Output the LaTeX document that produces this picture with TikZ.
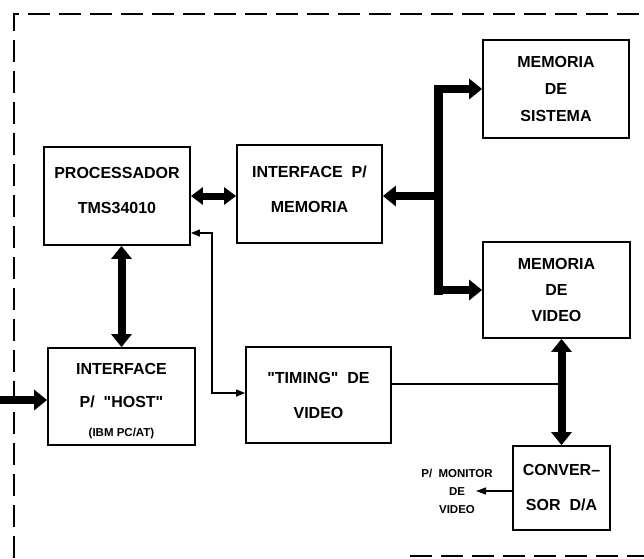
\documentclass[tikz,border=0pt]{standalone}
\usepackage{fontspec}
\setmainfont{Liberation Sans}
\usetikzlibrary{arrows.meta,calc}
\tikzset{
  box/.style={draw, line width=1.8pt, inner sep=0pt},
  txt/.style={align=center, inner sep=0pt, font=\bfseries\fontsize{16}{35}\selectfont},
  fat/.style={line width=8pt, -{Triangle[width=20pt,length=13pt]}},
  fatboth/.style={line width=8pt, {Triangle[width=20pt,length=13pt]}-{Triangle[width=20pt,length=13pt]}},
  midboth/.style={line width=7pt, {Triangle[width=17pt,length=12pt]}-{Triangle[width=17pt,length=12pt]}},
  busline/.style={line width=9pt, line cap=rect},
  thinline/.style={line width=1.2pt},
  thinarrow/.style={line width=1.2pt, -{Triangle[width=7pt,length=10pt]}},
  thinboth/.style={line width=1.2pt, {Triangle[width=7pt,length=9pt]}-{Triangle[width=7pt,length=9pt]}},
  frame/.style={line width=1.8pt, dash pattern=on 22pt off 9pt},
  small/.style={font=\bfseries\fontsize{11.5}{18}\selectfont, align=center, inner sep=0pt}
}
\begin{document}
\begin{tikzpicture}[x=1pt,y=-1pt]
\useasboundingbox (0,0) rectangle (644,558);
% frame
\draw[frame] (14,558) -- (14,14) -- (644,14);
\draw[frame] (410,556) -- (644,556);
% boxes
\node[box, minimum width=146pt, minimum height=98pt] (proc) at (117,196) {};
\node[box, minimum width=145pt, minimum height=98pt] (imem) at (309.5,194) {};
\node[box, minimum width=146pt, minimum height=98pt] (msys) at (556,89) {};
\node[box, minimum width=147pt, minimum height=96pt] (mvid) at (556.5,290) {};
\node[box, minimum width=147pt, minimum height=97pt] (host) at (121.5,396.5) {};
\node[box, minimum width=145pt, minimum height=96pt] (tim) at (318.5,395) {};
\node[box, minimum width=97pt, minimum height=84pt] (conv) at (561.5,488) {};
% texts
\node[txt] (procT) at (117,190) {PROCESSADOR\\TMS34010};
\node[txt] (imemT) at (309.5,189) {INTERFACE\ \ P/\\MEMORIA};
\node[txt, font=\bfseries\fontsize{16}{27}\selectfont] (msysT) at (556,89) {MEMORIA\\DE\\SISTEMA};
\node[txt, font=\bfseries\fontsize{16}{26}\selectfont] (mvidT) at (556.5,290) {MEMORIA\\DE\\VIDEO};
\node[txt, font=\bfseries\fontsize{16}{33}\selectfont] (hostT) at (121.5,401)
  {INTERFACE\\P/\ \ \textquotedbl HOST\textquotedbl\\[-4pt]{\fontsize{11.5}{12}\selectfont (IBM PC/AT)}};
\node[txt] (timT) at (318.5,395) {\textquotedbl TIMING\textquotedbl\ \ DE\\VIDEO};
\node[txt] (convT) at (561.5,488) {CONVER--\\SOR\ \ D/A};
\node[small] (mon) at (457,491) {P/\ \ MONITOR\\DE\\VIDEO};
% bus
\coordinate (bTop) at (438,89);
\coordinate (bMid) at (438,196);
\coordinate (bBot) at (438,290);
\draw[busline] (bTop) -- (bBot);
\draw[fat] (bTop) -- (msys.west);
\draw[fat] (bBot) -- (mvid.west);
\draw[fat] (bMid) -- (imem.east |- bMid);
% processor <-> interface memoria
\draw[midboth] (proc.east) -- (imem.west |- proc.east);
% processor <-> host
\draw[fatboth] (host.north |- proc.south) -- (host.north);
% input to host
\coordinate (hin) at (0,400);
\draw[fat] (hin) -- (host.west |- hin);
% timing link
\coordinate (tA) at (212,233);
\coordinate (tB) at (212,393);
\draw[thinboth] (proc.east |- tA) -- (tA) -- (tB) -- (tim.west |- tB);
% timing to DAC bus
\coordinate (tC) at (391,384);
\draw[thinline] (tim.east |- tC) -- (conv.north |- tC);
% video memory <-> conversor
\draw[fatboth] (mvid.south -| conv.north) -- (conv.north);
% conversor -> monitor
\coordinate (monA) at (476,491);
\draw[thinarrow] (conv.west |- monA) -- (monA);
\end{tikzpicture}
\end{document}
